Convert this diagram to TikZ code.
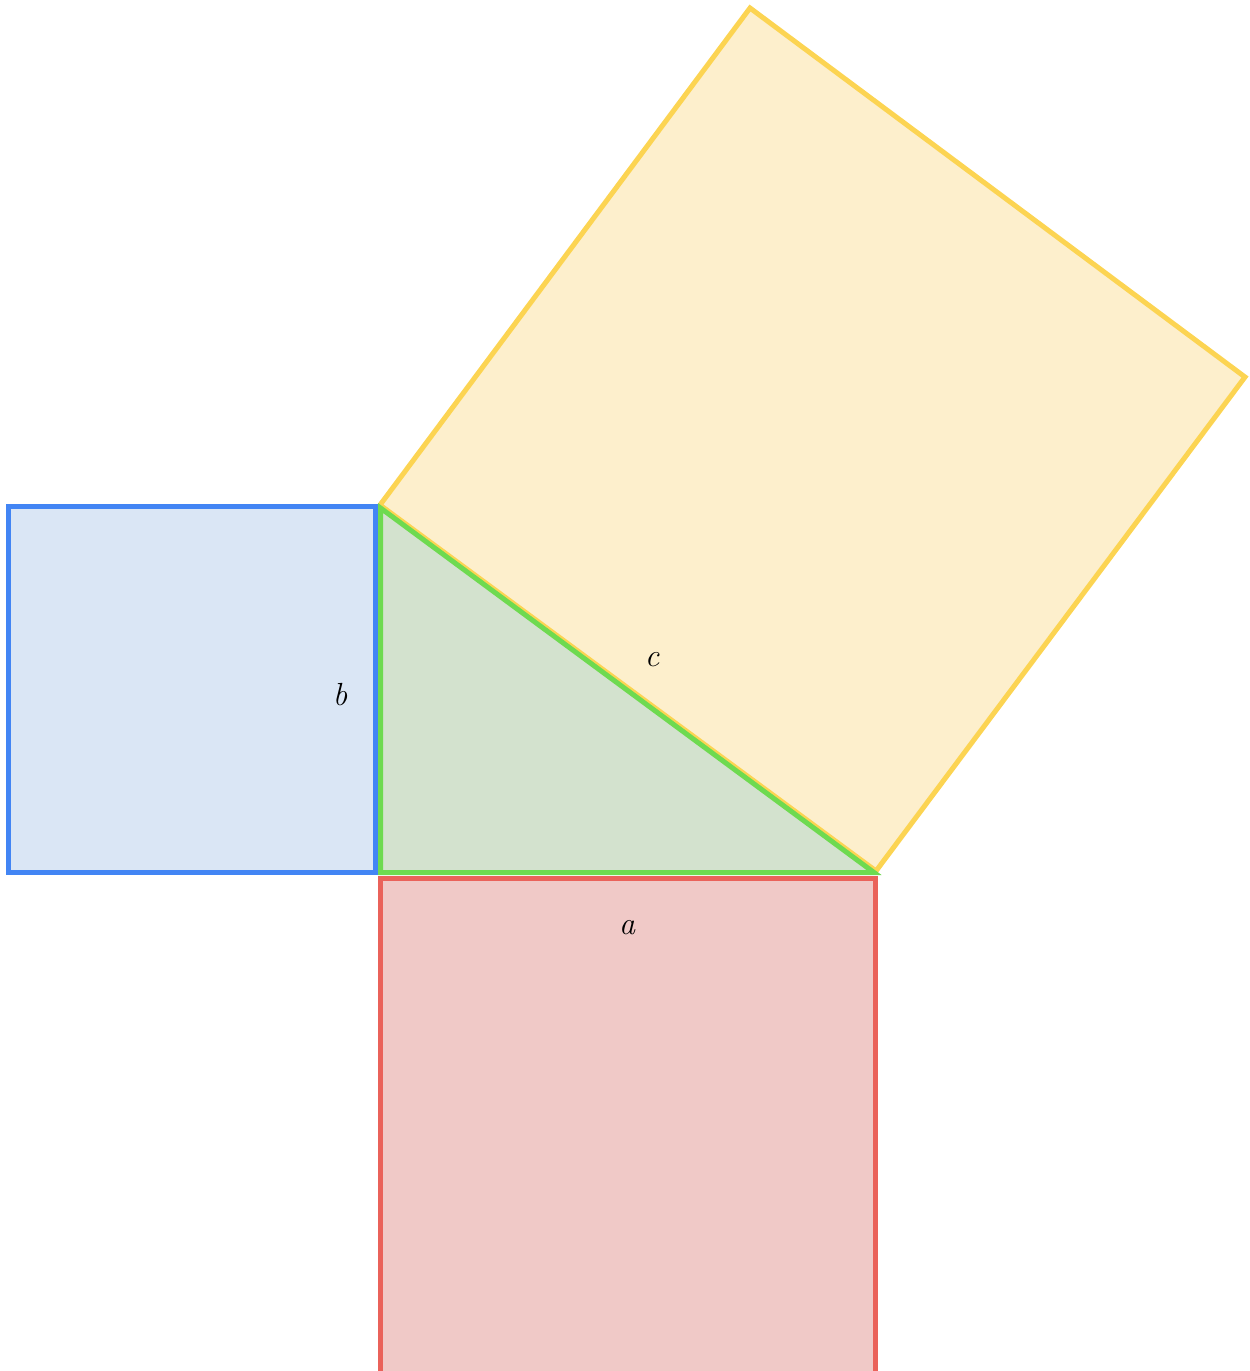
\documentclass[tikz,border=0pt]{standalone}
\usepackage{fontspec}
\definecolor{bluestroke}{RGB}{66,133,244}
\definecolor{bluefill}{RGB}{218,230,245}
\definecolor{greenstroke}{RGB}{110,218,80}
\definecolor{greenfill}{RGB}{211,226,206}
\definecolor{yellowstroke}{RGB}{252,212,82}
\definecolor{yellowfill}{RGB}{253,239,204}
\definecolor{redstroke}{RGB}{234,98,90}
\definecolor{redfill}{RGB}{240,201,199}
\tikzset{
  shapeline/.style={line width=5pt, line join=miter},
  lbl/.style={font=\fontsize{32}{36}\selectfont\itshape, inner sep=0pt}
}
\begin{document}
\begin{tikzpicture}[x=1pt,y=-1pt]
\useasboundingbox (0,0) rectangle (1250,1371);
\clip (0,0) rectangle (1250,1371);
% yellow square
\coordinate (y1) at (380,505);
\coordinate (y2) at (750,8);
\coordinate (y3) at (1245,377);
\coordinate (y4) at (876,871);
\draw[shapeline, draw=yellowstroke, fill=yellowfill] (y1) -- (y2) -- (y3) -- (y4) -- cycle;
% green triangle
\coordinate (g1) at (380.5,508);
\coordinate (g2) at (380.5,872.5);
\coordinate (g3) at (874,872.5);
\draw[shapeline, draw=greenstroke, fill=greenfill] (g1) -- (g2) -- (g3) -- cycle;
% blue square
\draw[shapeline, draw=bluestroke, fill=bluefill] (8.5,506.5) rectangle (375.5,872.5);
% red square
\draw[shapeline, draw=redstroke, fill=redfill] (380.5,878.5) rectangle (875,1378);
% labels
\node[lbl] (lb) at (340,695) {b};
\node[lbl] (lc) at (652,660) {c};
\node[lbl] (la) at (627,928) {a};
\end{tikzpicture}
\end{document}
